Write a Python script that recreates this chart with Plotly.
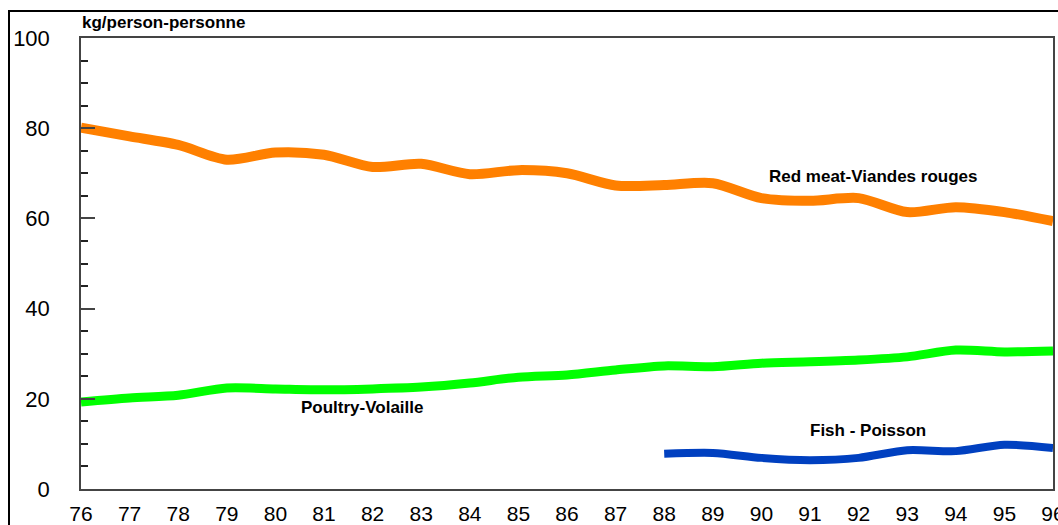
import plotly.graph_objects as go

years = list(range(76, 97))
red_meat = [80.1, 78.2, 76.3, 73.0, 74.6, 74.1, 71.4, 72.1, 69.8, 70.7, 70.0,
            67.3, 67.4, 67.8, 64.5, 63.9, 64.5, 61.4, 62.5, 61.4, 59.4]
poultry = [19.3, 20.2, 20.8, 22.4, 22.2, 22.0, 22.2, 22.6, 23.5, 24.8, 25.3,
           26.4, 27.3, 27.1, 27.9, 28.2, 28.6, 29.3, 30.8, 30.4, 30.6]
fish_years = list(range(88, 97))
fish = [7.8, 8.0, 6.9, 6.4, 6.9, 8.6, 8.4, 9.8, 9.1]

x_ticks = list(range(76, 97))
x_labels = [str(v) for v in x_ticks]
y_ticks = [0, 20, 40, 60, 80, 100]

FONT = "Liberation Sans, Arial, sans-serif"

W, H = 1058, 525
ML, MR, MT, MB = 81, 5, 38, 36
PW, PH = W - ML - MR, H - MT - MB

fig = go.Figure()
fig.add_trace(go.Scatter(x=years, y=red_meat, mode="lines", line=dict(color="#FF8000", width=10, shape="spline", smoothing=0.8), showlegend=False))
fig.add_trace(go.Scatter(x=years, y=poultry, mode="lines", line=dict(color="#00FF00", width=9, shape="spline", smoothing=0.8), showlegend=False))
fig.add_trace(go.Scatter(x=fish_years, y=fish, mode="lines", line=dict(color="#0040C0", width=8, shape="spline", smoothing=0.8), showlegend=False))

ann_font = dict(family=FONT, size=17, color="#000")
fig.add_annotation(x=92.3, y=69.4, text="<b>Red meat-Viandes rouges</b>", showarrow=False, font=ann_font)
fig.add_annotation(x=81.8, y=18.0, text="<b>Poultry-Volaille</b>", showarrow=False, font=ann_font)
fig.add_annotation(x=92.2, y=12.9, text="<b>Fish - Poisson</b>", showarrow=False, font=ann_font)
fig.add_annotation(xref="paper", yref="paper", x=-1 / PW, y=(PH + 16) / PH, xanchor="left", yanchor="middle",
                   text="<b>kg/person-personne</b>", showarrow=False, font=ann_font)

# outer frame
fig.add_shape(type="rect", xref="paper", yref="paper", x0=(9 - ML) / PW, x1=1.2,
              y0=-0.3, y1=(PH + 27) / PH, line=dict(color="#000", width=2), fillcolor="rgba(0,0,0,0)")

fig.update_xaxes(range=[76, 96], tickvals=x_ticks, ticktext=x_labels, showgrid=False, zeroline=False,
                 showline=True, linecolor="#444", linewidth=1.5, mirror=True, ticks="", automargin=False,
                 ticklabeloverflow="allow",
                 ticklabelstandoff=5, tickfont=dict(family=FONT, size=21, color="#000"))
fig.update_yaxes(range=[0, 100], tickvals=y_ticks, showgrid=False, zeroline=False,
                 showline=True, linecolor="#444", linewidth=1.5, mirror=True, automargin=False,
                 ticks="inside", ticklen=14, tickcolor="#444", tickwidth=1.5,
                 minor=dict(dtick=5, tick0=0, ticks="inside", ticklen=7, tickcolor="#222", tickwidth=1.5),
                 ticklabelstandoff=25, tickfont=dict(family=FONT, size=22, color="#000"))

fig.update_layout(width=W, height=H, margin=dict(l=ML, r=MR, t=MT, b=MB, autoexpand=False),
                  plot_bgcolor="white", paper_bgcolor="white")

fig.write_html("out.html", config={"displayModeBar": False},
               post_script="document.body.style.margin='0';document.body.style.overflow='hidden';")
